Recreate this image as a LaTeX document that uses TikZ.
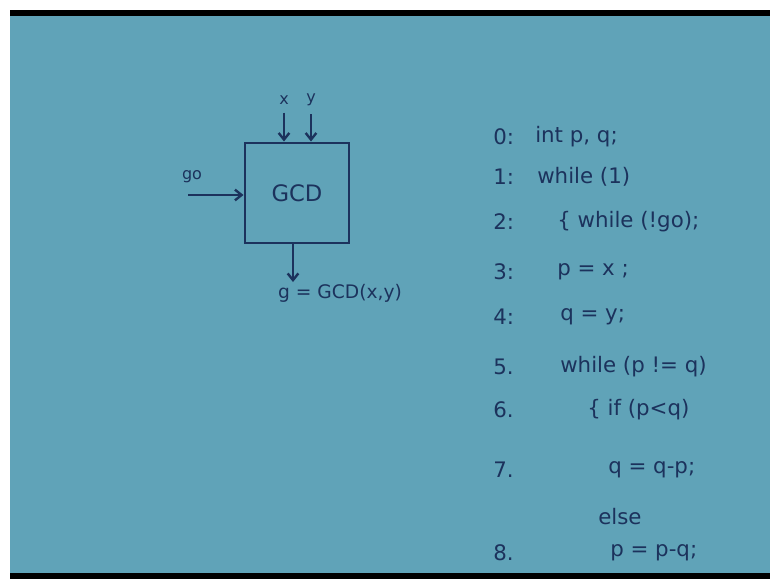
\documentclass[tikz,border=0pt]{standalone}
\usepackage{fontspec}
\setmainfont{DejaVu Sans}
\usetikzlibrary{arrows.meta}
\definecolor{board}{RGB}{96,163,184}
\definecolor{ink}{RGB}{28,50,92}
\begin{document}
\begin{tikzpicture}[x=0.75pt,y=-0.75pt,
  every node/.style={text=ink,inner sep=0pt},
  wire/.style={draw=ink,line width=1.8pt,-{Straight Barb[length=5pt,width=8pt]}},
  codeline/.style={anchor=west,font=\fontsize{16}{19}\selectfont},
  small/.style={font=\fontsize{12}{14}\selectfont}]
\fill[white] (0,0) rectangle (770,579);
\fill[black] (10,10) rectangle (770,579);
\fill[board] (10,16) rectangle (770,573);
% the block
\node[draw=ink,line width=2.2pt,minimum width=78pt,minimum height=75pt,
  font=\fontsize{17}{20}\selectfont] (gcd) at (297,193) {GCD};
\foreach \a/\x in {x/284, y/311}{
\path (\x,100) node[small] (in\a) {\a};
\draw[wire] ([yshift=-6pt]in\a.south) -- (in\a |- gcd.north);
}
\path (192,177) node[small] (go) {go};
\coordinate (gotail) at (188,195);
\draw[wire] (gotail) -- (gotail -| gcd.west);
\coordinate (outtip) at (293,282);
\draw[wire] (outtip |- gcd.south) -- (outtip);
\path (340,293) node[font=\fontsize{14}{17}\selectfont] (gout) {g = GCD(x,y)};
% the code
\foreach \n/\t/\xx/\yy [count=\i] in {0:/{int p, q;}/535/137, 1:/{while (1)}/537/177,
  2:/{\{ while (!go);}/557/222, 3:/{p = x ;}/557/272, 4:/{q = y;}/560/317,
  5./{while (p != q)}/560/367, 6./{\{ if (p<q)}/587/410, 7./{q = q-p;}/608/470,
  8./{p = p-q;}/610/553}{
\path (493,\yy) node[codeline] (num\i) {\n};
\path (\xx,\yy) node[codeline] (code\i) {\t};
}
\path (598,517) node[codeline] (codeelse) {else};
\end{tikzpicture}
\end{document}
